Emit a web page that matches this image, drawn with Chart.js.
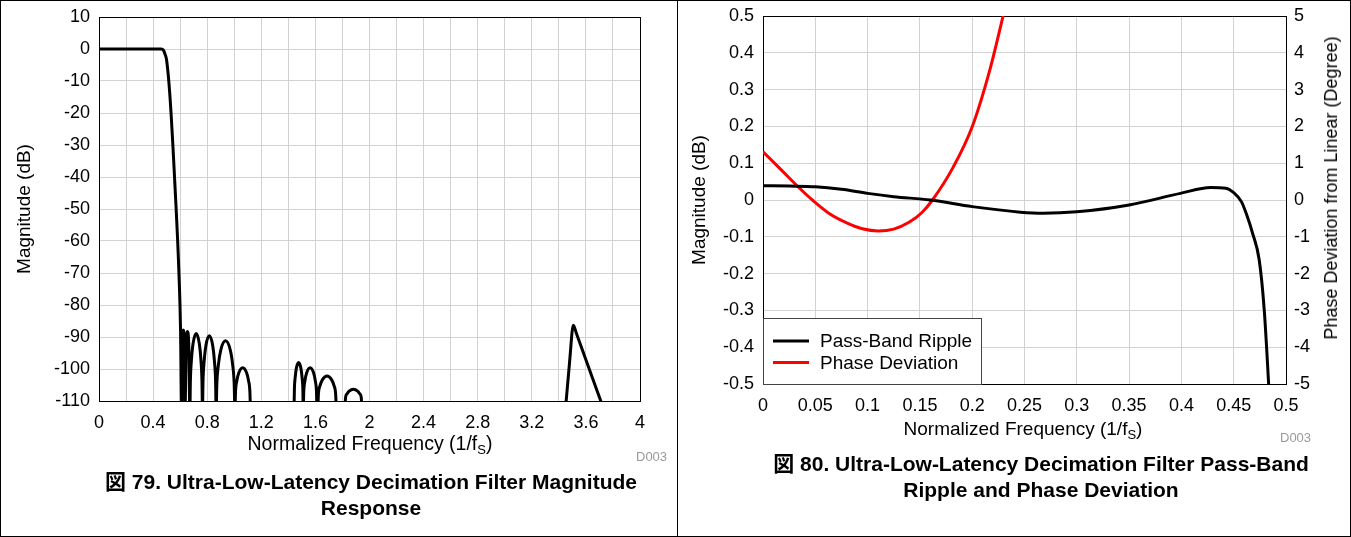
<!DOCTYPE html>
<html>
<head>
<meta charset="utf-8">
<script src="https://cdn.jsdelivr.net/npm/chart.js@4.4.1/dist/chart.umd.min.js"></script>
<style>
  body { margin: 0; width: 1351px; height: 537px; position: relative; overflow: hidden; background: #fff;
         font-family: "Liberation Sans", Arial, "Noto Sans CJK JP", sans-serif; color: #000; }
  .frame { position: absolute; left: 0; top: 0; width: 1349px; height: 535px; border: 1px solid #000; }
  .divider { position: absolute; left: 677px; top: 0; width: 1px; height: 537px; background: #000; }
  canvas { position: absolute; top: 0; }
  #magChart { left: 0; }
  #rippleChart { left: 678px; }
  .xtitle { position: absolute; line-height: 1; white-space: nowrap; transform: translate(-50%, -50%); }
  .xtitle sub { font-size: 13px; vertical-align: -4px; line-height: 0; }
  .ytitle { position: absolute; font-size: 18px; line-height: 1; white-space: nowrap; transform: translate(-50%, -50%) rotate(-90deg); }
  .code { position: absolute; font-size: 13px; color: #9a9a9a; line-height: 1; transform: translateY(-50%); }
  .caption { position: absolute; font-weight: bold; font-size: 21px; line-height: 26px; text-align: center;
             white-space: nowrap; transform: translateX(-50%); }
</style>
</head>
<body>
<div class="frame"></div>
<div class="divider"></div>
<canvas id="magChart" width="677" height="440"></canvas>
<canvas id="rippleChart" width="672" height="420"></canvas>

<div class="xtitle" style="left:370px; top:444px; font-size:19.5px;">Normalized Frequency (1/f<sub>S</sub>)</div>
<div class="code" style="left:636px; top:456px;">D003</div>
<div class="caption" style="left:371px; top:469px;">図 79. Ultra-Low-Latency Decimation Filter Magnitude<br>Response</div>

<div class="xtitle" style="left:1023px; top:428px; font-size:19px;">Normalized Frequency (1/f<sub>S</sub>)</div>
<div class="ytitle" style="left:1331px; top:188px;">Phase Deviation from Linear (Degree)</div>
<div class="code" style="left:1280px; top:437px;">D003</div>
<div class="caption" style="left:1041px; top:451px;">図 80. Ultra-Low-Latency Decimation Filter Pass-Band<br>Ripple and Phase Deviation</div>

<script>
// ---- data: magnitude response (null = break in the line) ----
const magFreq = [
  0, 0.1, 0.2, 0.3, 0.4, 0.46, 0.475, 0.487, 0.5, 0.525, 0.562, 0.591, 0.603, 0.61,
  0.6165, 0.623, 0.6295, 0.636,
  0.645, 0.654, 0.663, 0.672,
  0.6757, 0.6832, 0.6953, 0.7185, 0.7418, 0.7538, 0.7613, 0.765,
  0.769, 0.7771, 0.7903, 0.8155, 0.8408, 0.8539, 0.862, 0.866,
  0.8716, 0.8827, 0.9008, 0.9355, 0.9703, 0.9883, 0.9994, 1.005,
  1.0096, 1.0188, 1.0338, 1.0625, 1.0913, 1.1062, 1.1154, 1.12,
  1.2,
  1.442, 1.4447, 1.4502, 1.459, 1.476, 1.493, 1.5018, 1.5073, 1.51,
  1.5141, 1.5222, 1.5355, 1.561, 1.5865, 1.5998, 1.6079, 1.612,
  1.617, 1.6225, 1.6336, 1.6515, 1.686, 1.7205, 1.7384, 1.7495, 1.755,
  1.79,
  1.818, 1.823, 1.8331, 1.8495, 1.881, 1.9125, 1.9289, 1.939, 1.944,
  2.5,
  3.448, 3.48, 3.507, 3.53, 3.6, 3.71, 3.74
];
const magDb = [
  0, 0, 0, 0, 0, 0, -0.3, -1.5, -3.5, -15, -43, -70, -88, -113,
  -91.1, -87.8, -91.1, -113,
  -91.6, -88.3, -91.6, -113,
  -103.7, -97.3, -92.1, -88.9, -92.1, -97.3, -103.7, -113,
  -103.9, -97.8, -92.7, -89.6, -92.7, -97.8, -103.9, -113,
  -104.4, -98.7, -94.0, -91.2, -94.0, -98.7, -104.4, -113,
  -106.9, -103.8, -101.2, -99.6, -101.2, -103.8, -106.9, -113,
  null,
  -113, -106.4, -102.8, -99.8, -98.0, -99.8, -102.8, -106.4, -113,
  -106.9, -103.8, -101.2, -99.6, -101.2, -103.8, -106.9, -113,
  -113, -107.7, -105.3, -103.4, -102.2, -103.4, -105.3, -107.7, -113,
  null,
  -113, -108.9, -107.8, -106.9, -106.3, -106.9, -107.8, -108.9, -113,
  null,
  -113, -97.5, -86.3, -88.9, -97.1, -110, -113.5
];
const magXTicks = { min: 0, max: 4, step: 0.2, labelEvery: 0.4 };
const magYTicks = { min: -110, max: 10, step: 10 };

// ---- data: pass-band ripple (dB) and phase deviation (degree) ----
const rippleFreq = [0, 0.025, 0.05, 0.075, 0.1, 0.125, 0.16, 0.2, 0.246, 0.268, 0.3, 0.35, 0.399, 0.428, 0.4425, 0.45, 0.4575, 0.463, 0.468, 0.4744, 0.4792, 0.4834, 0.4855];
const rippleDb   = [0.039, 0.038, 0.036, 0.029, 0.018, 0.009, 0, -0.018, -0.033, -0.036, -0.032, -0.0136, 0.018, 0.034, 0.032, 0.02, -0.005, -0.045, -0.09, -0.163, -0.299, -0.5, -0.62];
const phaseFreq  = [0, 0.016, 0.0335, 0.048, 0.064, 0.08, 0.095, 0.11, 0.125, 0.14, 0.152, 0.162, 0.182, 0.2, 0.217, 0.2295, 0.24];
const phaseDeg   = [1.31, 0.86, 0.36, -0.02, -0.38, -0.62, -0.78, -0.84, -0.79, -0.6, -0.34, 0, 0.9, 1.99, 3.55, 5.0, 6.3];
const seriesNames = ['Pass-Band Ripple', 'Phase Deviation'];
const seriesColors = ['#000000', '#ff0000'];

const FONT = '"Liberation Sans", Arial, sans-serif';
const gridColor = '#d2d2d2';

const toPoints = (xs, ys) => xs.map((x, i) => ({ x: x, y: ys[i] }));

// black box round the plot area
const plotFrame = {
  id: 'plotFrame',
  beforeDatasetsDraw(chart) {
    const { ctx, chartArea: a } = chart;
    ctx.save();
    ctx.strokeStyle = '#000';
    ctx.lineWidth = 1;
    ctx.strokeRect(Math.round(a.left) + 0.5, Math.round(a.top) + 0.5, Math.round(a.right - a.left), Math.round(a.bottom - a.top));
    ctx.restore();
  }
};

// legend box inside the bottom-left corner of the plot
const boxLegend = {
  id: 'boxLegend',
  afterDraw(chart, args, opts) {
    if (!opts.show) return;
    const { ctx, chartArea: a } = chart;
    const w = 218, h = 66;
    const x = Math.round(a.left), y = Math.round(a.bottom) - h;
    ctx.save();
    ctx.fillStyle = '#fff';
    ctx.fillRect(x, y, w, h);
    ctx.strokeStyle = '#444';
    ctx.lineWidth = 1;
    ctx.strokeRect(x + 0.5, y + 0.5, w, h);
    ctx.font = '19px ' + FONT;
    ctx.textBaseline = 'middle';
    chart.data.datasets.forEach((ds, i) => {
      const ly = y + 23 + i * 21.5;
      ctx.strokeStyle = ds.borderColor;
      ctx.lineWidth = 3;
      ctx.beginPath();
      ctx.moveTo(x + 10, ly);
      ctx.lineTo(x + 46, ly);
      ctx.stroke();
      ctx.fillStyle = '#000';
      ctx.fillText(ds.label, x + 57, ly + 1);
    });
    ctx.restore();
  }
};

const fixWidth = (w) => (scale) => { scale.width = w; scale.paddingTop = 0; scale.paddingBottom = 0; };
const fixHeight = (h) => (scale) => { scale.height = h; };
const trim = (v) => String(Math.round(v * 1000) / 1000);

new Chart(document.getElementById('magChart'), {
  type: 'line',
  data: {
    datasets: [{
      label: 'Magnitude',
      data: toPoints(magFreq, magDb),
      borderColor: '#000',
      borderWidth: 3,
      pointRadius: 0,
      cubicInterpolationMode: 'monotone',
      spanGaps: false,
      clip: 0
    }]
  },
  options: {
    responsive: false,
    animation: false,
    layout: { padding: { left: 0, right: 37, top: 17, bottom: 0 } },
    plugins: { legend: { display: false }, tooltip: { enabled: false }, boxLegend: { show: false } },
    scales: {
      x: {
        type: 'linear', min: magXTicks.min, max: magXTicks.max,
        grid: { color: gridColor, drawTicks: false },
        border: { color: '#000' },
        afterFit: fixHeight(39),
        ticks: {
          stepSize: magXTicks.step, autoSkip: false, maxRotation: 0, padding: 11,
          color: '#000', font: { family: FONT, size: 18 },
          callback: (v) => {
            const k = Math.round(v / magXTicks.step);
            return (k % Math.round(magXTicks.labelEvery / magXTicks.step) === 0) ? trim(v) : '';
          }
        }
      },
      y: {
        min: magYTicks.min, max: magYTicks.max,
        grid: { color: gridColor, drawTicks: false },
        border: { color: '#000' },
        afterFit: fixWidth(99),
        title: { display: true, text: 'Magnitude (dB)', color: '#000', font: { family: FONT, size: 19 }, padding: { top: 13, bottom: 0 } },
        ticks: { stepSize: magYTicks.step, padding: 9, color: '#000', font: { family: FONT, size: 18 } }
      }
    }
  },
  plugins: [plotFrame, boxLegend]
});

new Chart(document.getElementById('rippleChart'), {
  type: 'line',
  data: {
    datasets: [{
      label: seriesNames[0],
      data: toPoints(rippleFreq, rippleDb),
      borderColor: seriesColors[0],
      borderWidth: 3,
      pointRadius: 0,
      cubicInterpolationMode: 'monotone',
      yAxisID: 'y',
      clip: 0
    }, {
      label: seriesNames[1],
      data: toPoints(phaseFreq, phaseDeg),
      borderColor: seriesColors[1],
      borderWidth: 3,
      pointRadius: 0,
      cubicInterpolationMode: 'monotone',
      yAxisID: 'y2',
      clip: 0
    }]
  },
  options: {
    responsive: false,
    animation: false,
    layout: { padding: { left: 0, right: 0, top: 16, bottom: 0 } },
    plugins: { legend: { display: false }, tooltip: { enabled: false }, boxLegend: { show: true } },
    scales: {
      x: {
        type: 'linear', min: 0, max: 0.5,
        grid: { color: gridColor, drawTicks: false },
        border: { color: '#000' },
        afterFit: fixHeight(36),
        ticks: { stepSize: 0.05, autoSkip: false, maxRotation: 0, padding: 11, color: '#000',
                 font: { family: FONT, size: 18 }, callback: (v) => trim(v) }
      },
      y: {
        position: 'left', min: -0.5, max: 0.5,
        grid: { color: gridColor, drawTicks: false },
        border: { color: '#000' },
        afterFit: fixWidth(85),
        title: { display: true, text: 'Magnitude (dB)', color: '#000', font: { family: FONT, size: 19 }, padding: { top: 10, bottom: 0 } },
        ticks: { stepSize: 0.1, padding: 9, color: '#000', font: { family: FONT, size: 18 }, callback: (v) => trim(v) }
      },
      y2: {
        position: 'right', min: -5, max: 5,
        grid: { display: false, drawTicks: false },
        border: { color: '#000' },
        afterFit: fixWidth(64),
        ticks: { stepSize: 1, padding: 8, color: '#000', font: { family: FONT, size: 18 } }
      }
    }
  },
  plugins: [plotFrame, boxLegend]
});
</script>
</body>
</html>
